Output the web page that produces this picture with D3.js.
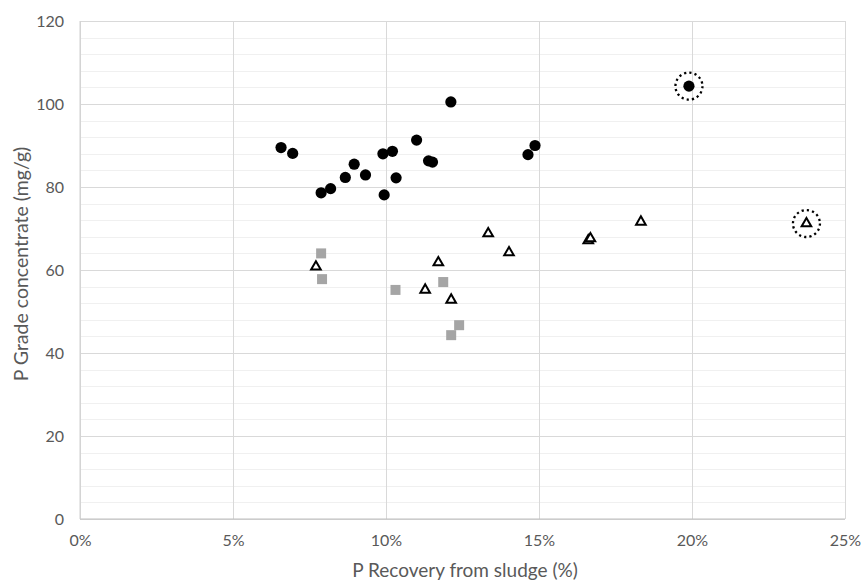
<!DOCTYPE html>
<html>
<head>
<meta charset="utf-8">
<script src="https://cdn.jsdelivr.net/npm/d3@7"></script>
<style>
  html, body { margin: 0; padding: 0; background: #fff; }
  svg { display: block; }
  text { font-family: Lato, "Open Sans", sans-serif; fill: #595959; }
</style>
</head>
<body>
<svg id="chart" width="863" height="580"></svg>
<script>
// P recovery (%) and P grade (mg/g) per series
const circleRecovery = [6.57, 6.95, 7.88, 8.19, 8.67, 8.96, 9.33, 9.90, 9.94, 10.21, 10.33, 11.00, 11.39, 11.52, 12.12, 14.64, 14.87, 19.90];
const circleGrade    = [89.5, 88.1, 78.6, 79.6, 82.3, 85.5, 82.9, 88.0, 78.1, 88.6, 82.2, 91.3, 86.3, 86.0, 100.5, 87.8, 90.0, 104.3];

const squareRecovery = [7.88, 7.91, 10.31, 11.87, 12.39, 12.13];
const squareGrade    = [64.0, 57.8, 55.2, 57.1, 46.7, 44.3];

const triangleRecovery = [7.71, 11.71, 11.28, 12.13, 13.34, 14.02, 16.61, 16.68, 18.33, 23.74];
const triangleGrade    = [60.8, 61.8, 55.2, 52.8, 68.8, 64.2, 67.1, 67.6, 71.6, 71.2];

// points circled with a dotted ring
const ringRecovery = [19.90, 23.74];
const ringGrade    = [104.3, 71.2];

const xTicks = [0, 5, 10, 15, 20, 25];
const yTicks = [0, 20, 40, 60, 80, 100, 120];
const yMinorStep = 4;

const xTitle = "P Recovery from sludge (%)";
const yTitle = "P Grade concentrate (mg/g)";

const svg = d3.select("#chart");
const margin = { left: 80, right: 18, top: 21, bottom: 61 };
const W = 863, H = 580;

const x = d3.scaleLinear().domain([0, 25]).range([margin.left, W - margin.right]);
const y = d3.scaleLinear().domain([0, 120]).range([H - margin.bottom, margin.top]);

// minor horizontal gridlines
const minor = d3.range(0, 120 + 0.001, yMinorStep).filter(v => v % 20 !== 0);
svg.append("g")
  .selectAll("line").data(minor).join("line")
  .attr("x1", x(0)).attr("x2", x(25))
  .attr("y1", d => Math.round(y(d)) + 0.5).attr("y2", d => Math.round(y(d)) + 0.5)
  .attr("stroke", "#f0f0f0").attr("stroke-width", 1);

// major gridlines and tick labels
const yAxis = d3.axisLeft(y).tickValues(yTicks).tickSize(-(x(25) - x(0))).tickFormat(d3.format("d"));
const gy = svg.append("g").attr("transform", `translate(${x(0)},0)`).call(yAxis);
gy.select(".domain").remove();
gy.selectAll(".tick line").attr("stroke", "#d9d9d9");
gy.selectAll(".tick text").attr("x", -16).attr("dy", "0.35em")
  .style("font-size", "16px").style("font-family", "Lato, sans-serif").attr("fill", "#595959");

const xAxis = d3.axisBottom(x).tickValues(xTicks).tickSize(-(y(0) - y(120))).tickFormat(d => d + "%");
const gx = svg.append("g").attr("transform", `translate(0,${y(0)})`).call(xAxis);
gx.select(".domain").remove();
gx.selectAll(".tick line").attr("stroke", "#d9d9d9");
gx.selectAll(".tick text").attr("y", 16).attr("dy", "0.71em")
  .style("font-size", "16px").style("font-family", "Lato, sans-serif").attr("fill", "#595959");

// axis lines
svg.append("line").attr("x1", x(0)).attr("x2", x(25)).attr("y1", y(0)).attr("y2", y(0))
  .attr("stroke", "#bfbfbf").attr("stroke-width", 1);
svg.append("line").attr("x1", x(0)).attr("x2", x(0)).attr("y1", y(0)).attr("y2", y(120))
  .attr("stroke", "#d0d0d0").attr("stroke-width", 1);

// squares
const sq = d3.symbol().type(d3.symbolSquare).size(100);
svg.append("g").selectAll("path").data(d3.range(squareRecovery.length)).join("path")
  .attr("d", sq)
  .attr("transform", i => `translate(${x(squareRecovery[i])},${y(squareGrade[i])})`)
  .attr("fill", "#a5a5a5");

// triangles
const tri = d3.symbol().type(d3.symbolTriangle).size(40);
svg.append("g").selectAll("path").data(d3.range(triangleRecovery.length)).join("path")
  .attr("d", tri)
  .attr("transform", i => `translate(${x(triangleRecovery[i])},${y(triangleGrade[i])})`)
  .attr("fill", "#fff").attr("stroke", "#000").attr("stroke-width", 2).attr("stroke-linejoin", "miter");

// circles
svg.append("g").selectAll("circle").data(d3.range(circleRecovery.length)).join("circle")
  .attr("cx", i => x(circleRecovery[i])).attr("cy", i => y(circleGrade[i]))
  .attr("r", 5.6).attr("fill", "#000");

// dotted rings
svg.append("g").selectAll("circle").data(d3.range(ringRecovery.length)).join("circle")
  .attr("cx", i => x(ringRecovery[i])).attr("cy", i => y(ringGrade[i]))
  .attr("r", 13.5).attr("fill", "none").attr("stroke", "#000")
  .attr("stroke-width", 2.3).attr("stroke-dasharray", "2.2,3.1");

// axis titles
svg.append("text").attr("x", 465).attr("y", 577)
  .attr("text-anchor", "middle").style("font-size", "19px").text(xTitle);
svg.append("text").attr("transform", "translate(28,264) rotate(-90)")
  .attr("text-anchor", "middle").style("font-size", "19.5px").text(yTitle);
</script>
</body>
</html>
